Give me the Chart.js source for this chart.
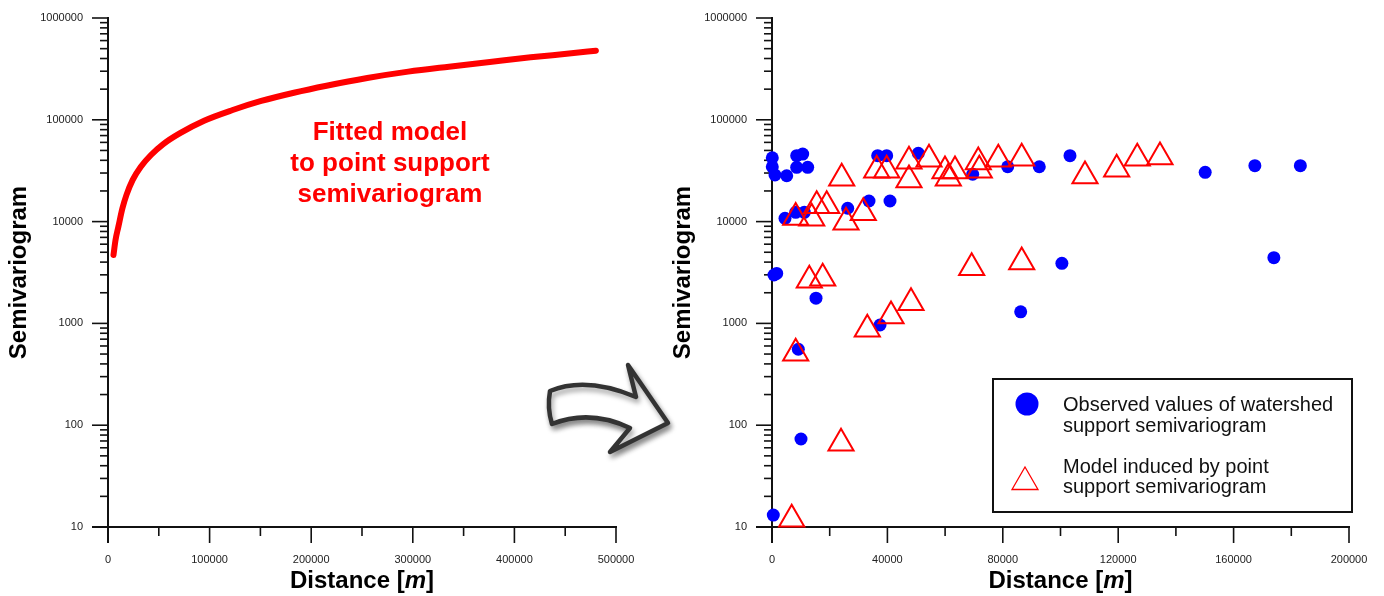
<!DOCTYPE html>
<html><head><meta charset="utf-8">
<script src="https://cdn.jsdelivr.net/npm/chart.js@4.4.1/dist/chart.umd.min.js"></script>
<style>
html,body{margin:0;padding:0;background:#fff;}
#wrap{position:relative;width:1384px;height:596px;overflow:hidden;}
canvas{position:absolute;left:0;top:0;}
</style></head><body>
<div id="wrap"><canvas id="left" width="1384" height="596"></canvas><canvas id="right" width="1384" height="596"></canvas></div>
<script>
// ---------- data ----------
const modelDistance = [5400, 7400, 10200, 14200, 18200, 24300, 32300, 42300, 54400, 70500, 94600, 122700, 150800, 183000, 215100, 255200, 295500, 335600, 375800, 416000, 456100, 480200];
const modelSemivariogram = [4700, 6600, 8900, 13500, 18300, 25700, 34600, 45100, 57800, 73600, 98000, 124800, 153100, 184500, 216300, 257400, 297200, 332700, 370000, 411000, 449800, 477500];

const obsDistance = [100, 100, 1040, 5100, 8560, 10640, 8560, 12370, 4510, 8210, 11200, 26240, 33620, 40900, 36640, 39750, 50710, 69560, 81700, 92650, 103290, 150150, 167370, 183140, 690, 1630, 100480, 173960, 15250, 86200, 37430, 9120, 10050, 450];
const obsSemivariogram = [42400, 34600, 28700, 28200, 44400, 46100, 34100, 34100, 10770, 12340, 12340, 13520, 15930, 15930, 44400, 44400, 46900, 29200, 34600, 34600, 44400, 30500, 35400, 35400, 2990, 3100, 3890, 4420, 1770, 1300, 964, 557, 73.2, 13.1];

const indDistance = [8210, 13760, 15490, 18960, 25650, 31640, 24160, 36290, 39750, 47480, 47480, 54420, 59960, 63430, 61110, 71500, 71850, 78440, 86550, 108490, 119470, 126610, 134480, 12930, 17570, 69210, 86550, 33030, 41250, 48180, 8210, 23920, 6830];
const indSemivariogram = [11000, 10770, 14330, 14330, 9840, 12230, 26620, 32000, 32000, 39100, 25640, 40900, 31400, 31400, 26620, 38500, 31900, 40900, 41900, 28000, 32600, 41900, 43100, 2650, 2770, 3520, 4010, 875, 1183, 1597, 508, 66.4, 11.9];

const yTicks = [10, 100, 1000, 10000, 100000, 1000000];
const leftXTicks = [0, 100000, 200000, 300000, 400000, 500000];
const rightXTicks = [0, 40000, 80000, 120000, 160000, 200000];

const yTitle = 'Semivariogram';
const xTitleParts = ['Distance [', 'm', ']'];
const modelNote = ['Fitted model', 'to point support', 'semivariogram'];
const obsLegend = ['Observed values of watershed', 'support semivariogram'];
const indLegend = ['Model induced by point', 'support semivariogram'];

// ---------- helpers ----------
const FONT = "'Liberation Sans', Arial, Helvetica, sans-serif";
const pts = (xs, ys) => xs.map((x, i) => ({x: x, y: ys[i]}));

function seg(ctx, x1, y1, x2, y2) { ctx.beginPath(); ctx.moveTo(x1, y1); ctx.lineTo(x2, y2); ctx.stroke(); }

const axesPlugin = {
  id: 'axesDraw',
  beforeDatasetsDraw(chart, args, o) {
    const ctx = chart.ctx, xs = chart.scales.x, ys = chart.scales.y;
    const x0 = xs.getPixelForValue(o.xMin), x1 = xs.getPixelForValue(o.xMax);
    const yTop = ys.getPixelForValue(1000000), yBot = ys.getPixelForValue(10);
    ctx.save();
    ctx.strokeStyle = '#111';
    ctx.lineWidth = 2;
    seg(ctx, x0, yTop - 1, x0, yBot + 16);
    seg(ctx, x0 - 16, yBot, x1 + 1, yBot);
    ctx.lineWidth = 1.6;
    for (let d = 10; d < 1000000; d *= 10) {
      for (let k = 1; k <= 9; k++) {
        const py = ys.getPixelForValue(k * d);
        seg(ctx, x0 - (k === 1 ? 16 : 8), py, x0, py);
      }
    }
    seg(ctx, x0 - 16, yTop, x0, yTop);
    for (let v = o.xMin; v <= o.xMax + 1; v += o.minorStep) {
      const px = xs.getPixelForValue(v);
      const major = Math.abs(v / o.majorStep - Math.round(v / o.majorStep)) < 1e-9;
      seg(ctx, px, yBot, px, yBot + (major ? 16 : 9));
    }
    ctx.restore();
  }
};

const xTitlePlugin = {
  id: 'xTitle',
  afterDraw(chart) {
    const ctx = chart.ctx, a = chart.chartArea;
    const fonts = ['bold 24px ' + FONT, 'italic bold 24px ' + FONT, 'bold 24px ' + FONT];
    ctx.save();
    let w = 0;
    const ws = xTitleParts.map((t, i) => { ctx.font = fonts[i]; const m = ctx.measureText(t).width; w += m; return m; });
    let x = (a.left + a.right) / 2 - w / 2;
    ctx.fillStyle = '#000';
    ctx.textBaseline = 'alphabetic';
    xTitleParts.forEach((t, i) => { ctx.font = fonts[i]; ctx.fillText(t, x, 588); x += ws[i]; });
    ctx.restore();
  }
};

const notePlugin = {
  id: 'note',
  afterDraw(chart) {
    const ctx = chart.ctx;
    ctx.save();
    ctx.fillStyle = '#ff0000';
    ctx.font = 'bold 26px ' + FONT;
    ctx.textAlign = 'center';
    ctx.textBaseline = 'alphabetic';
    modelNote.forEach((t, i) => ctx.fillText(t, 390, 140 + i * 31));
    // curved arrow between panels
    ctx.beginPath();
    ctx.moveTo(550, 391);
    ctx.quadraticCurveTo(586, 376, 636, 397);
    ctx.lineTo(628, 365);
    ctx.lineTo(668, 423);
    ctx.lineTo(610, 452);
    ctx.lineTo(630, 428);
    ctx.quadraticCurveTo(590, 409, 552, 424);
    ctx.quadraticCurveTo(547, 408, 550, 391);
    ctx.closePath();
    ctx.shadowColor = 'rgba(0,0,0,0.45)';
    ctx.shadowBlur = 7;
    ctx.shadowOffsetX = 2;
    ctx.shadowOffsetY = 4;
    ctx.fillStyle = '#fff';
    ctx.fill();
    ctx.shadowColor = 'rgba(0,0,0,0.35)';
    ctx.shadowBlur = 5;
    ctx.lineWidth = 4.5;
    ctx.lineJoin = 'round';
    ctx.strokeStyle = '#333';
    ctx.stroke();
    ctx.restore();
  }
};

const legendPlugin = {
  id: 'boxLegend',
  afterDraw(chart) {
    const ctx = chart.ctx;
    ctx.save();
    ctx.fillStyle = '#fff';
    ctx.fillRect(993, 379, 359, 133);
    ctx.strokeStyle = '#111';
    ctx.lineWidth = 2;
    ctx.strokeRect(993, 379, 359, 133);
    ctx.beginPath();
    ctx.arc(1027, 404, 11.5, 0, Math.PI * 2);
    ctx.fillStyle = '#0000ff';
    ctx.fill();
    ctx.fillStyle = 'rgba(0,0,0,0)';
    ctx.strokeStyle = '#ff0000';
    ctx.lineWidth = 1.3;
    Chart.helpers.drawPoint(ctx, {pointStyle: 'triangle', radius: 15, borderWidth: 1.3}, 1025, 482);
    ctx.fillStyle = '#111';
    ctx.font = '20px ' + FONT;
    ctx.textBaseline = 'alphabetic';
    ctx.fillText(obsLegend[0], 1063, 411);
    ctx.fillText(obsLegend[1], 1063, 431.5);
    ctx.fillText(indLegend[0], 1063, 473);
    ctx.fillText(indLegend[1], 1063, 493);
    ctx.restore();
  }
};

function scalesFor(xMax, xTickVals, yWidth, titlePad) {
  const tickFont = {family: FONT, size: 11};
  return {
    x: {
      type: 'linear', min: 0, max: xMax,
      afterFit(s) { s.height = 69; s.paddingLeft = 0; s.paddingRight = 0; s.paddingTop = 0; s.paddingBottom = 0; },
      afterBuildTicks(s) { s.ticks = xTickVals.map(v => ({value: v})); },
      grid: {display: false, drawTicks: false},
      border: {display: false},
      ticks: {padding: 26, font: tickFont, color: '#222', autoSkip: false, maxRotation: 0, callback: v => String(v)}
    },
    y: {
      type: 'logarithmic', min: 10, max: 1000000,
      afterFit(s) { s.width = yWidth; s.paddingTop = 0; s.paddingBottom = 0; s.paddingLeft = 0; s.paddingRight = 0; },
      afterBuildTicks(s) { s.ticks = yTicks.map(v => ({value: v})); },
      grid: {display: false, drawTicks: false},
      border: {display: false},
      ticks: {padding: 25, font: tickFont, color: '#222', autoSkip: false, callback: v => String(v)},
      title: {display: true, text: yTitle, color: '#000', font: {family: FONT, size: 24, weight: 'bold'}, padding: {top: titlePad, bottom: 0}}
    }
  };
}

const common = {responsive: false, animation: false, devicePixelRatio: 1, events: []};

new Chart(document.getElementById('left'), {
  type: 'scatter',
  data: {datasets: [{
    label: 'Fitted model to point support semivariogram',
    data: pts(modelDistance, modelSemivariogram),
    showLine: true, borderColor: '#ff0000', borderWidth: 6, pointRadius: 0,
    cubicInterpolationMode: 'monotone', borderCapStyle: 'round', fill: false
  }]},
  options: Object.assign({}, common, {
    layout: {padding: {left: 0, top: 18, right: 768, bottom: 0}},
    plugins: {legend: {display: false}, tooltip: {enabled: false},
      axesDraw: {xMin: 0, xMax: 500000, majorStep: 100000, minorStep: 50000}},
    scales: scalesFor(500000, leftXTicks, 108, 5)
  }),
  plugins: [axesPlugin, xTitlePlugin, notePlugin]
});

new Chart(document.getElementById('right'), {
  type: 'scatter',
  data: {datasets: [
    {label: 'Model induced by point support semivariogram', data: pts(indDistance, indSemivariogram),
     pointStyle: 'triangle', pointRadius: 14.5, borderColor: '#ff0000', borderWidth: 2,
     backgroundColor: 'rgba(0,0,0,0)', clip: false},
    {label: 'Observed values of watershed support semivariogram', data: pts(obsDistance, obsSemivariogram),
     pointStyle: 'circle', pointRadius: 6.5, borderWidth: 0, backgroundColor: '#0000ff', clip: false}
  ]},
  options: Object.assign({}, common, {
    layout: {padding: {left: 668, top: 18, right: 35, bottom: 0}},
    plugins: {legend: {display: false}, tooltip: {enabled: false},
      axesDraw: {xMin: 0, xMax: 200000, majorStep: 40000, minorStep: 20000}},
    scales: scalesFor(200000, rightXTicks, 104, 1)
  }),
  plugins: [axesPlugin, xTitlePlugin, legendPlugin]
});
</script>
</body></html>
